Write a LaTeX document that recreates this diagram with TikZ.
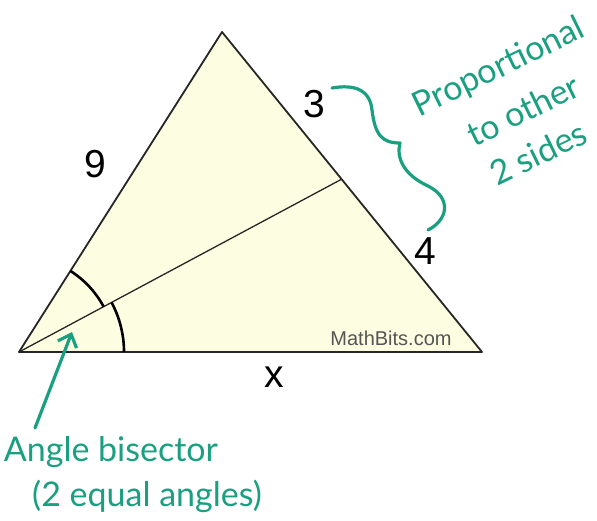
\documentclass[tikz,border=0pt]{standalone}
\usepackage{amsmath}
\usepackage{amssymb}
\usepackage{fontspec}
\setmainfont{Liberation Sans}
\newfontfamily\handfont{Lato}
\usetikzlibrary{arrows, arrows.meta, calc}
\definecolor{penGreen}{RGB}{26,160,128}
\definecolor{triFill}{RGB}{253,253,226}
\definecolor{markGray}{RGB}{85,85,85}

\begin{document}
\begin{tikzpicture}[x=1pt, y=1pt,
    sidelabel/.style={font=\fontsize{39}{40}\selectfont},
    handnote/.style={text=penGreen, inner sep=1pt, font=\handfont\fontsize{34}{36}\selectfont},
    pen/.style={draw=penGreen, line width=3.2pt, line cap=round, line join=round}]
  \useasboundingbox (0,0) rectangle (597,520);

  % Coordinates
  \coordinate (A) at (19,168);
  \coordinate (T) at (222,488);
  \coordinate (R) at (482,168);
  \coordinate (D) at ($(T)!0.46!(R)$);
  \coordinate (braceTop) at (332,432);
  \coordinate (braceTip) at (400,377);
  \coordinate (braceEnd) at (428,290);
  \coordinate (noteFoot) at (35,92);
  \coordinate (noteTip) at (72,188);

  % Triangle
  \filldraw[fill=triFill, draw=black!85, line width=1.8pt, line join=round]
    (A) -- (T) -- (R) -- cycle;
  \draw[black!85, line width=1.3pt] (A) -- (D);
  \draw[black, line width=2.6pt] (A) ++(57.6:96) arc[start angle=57.6, end angle=28.1, radius=96];
  \draw[black, line width=2.6pt] (A) ++(28.1:105) arc[start angle=28.1, end angle=0, radius=105];

  % Labels
  \node[sidelabel] (nine) at (95,356) {9};
  \node[sidelabel] (three) at (314,416) {3};
  \node[sidelabel] (four) at (425,269) {4};
  \node[sidelabel] (ex) at (274,143) {x};
  \node[text=markGray, font=\fontsize{20}{22}\selectfont] (brand) at (391,182) {MathBits.com};

  % Notes
  \node[handnote, rotate=26] (noteA) at (499,452) {Proportional};
  \node[handnote, rotate=26] (noteB) at (523,410) {to other};
  \node[handnote, rotate=26] (noteC) at (538,367) {2 sides};
  \node[handnote] (noteD) at (111,68) {Angle bisector};
  \node[handnote] (noteE) at (147,24) {(2 equal angles)};

  \draw[pen] (braceTop) .. controls (355,436) and (370,430) .. (372,410)
    .. controls (375,385) and (382,377) .. (braceTip)
    .. controls (396,362) and (404,345) .. (428,334)
    .. controls (452,322) and (448,300) .. (braceEnd);
  \draw[pen, -{Straight Barb[length=11pt, width=20pt]}] (noteFoot) -- (noteTip);
\end{tikzpicture}
\end{document}
